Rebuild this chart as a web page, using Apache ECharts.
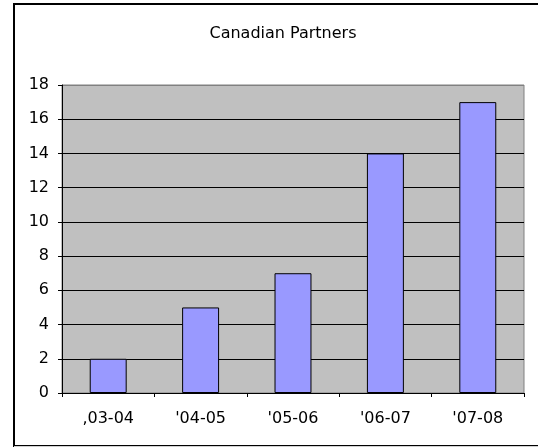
<!DOCTYPE html>
<html>
<head>
<meta charset="utf-8">
<script src="https://cdn.jsdelivr.net/npm/echarts@6/dist/echarts.min.js"></script>
<style>html,body{margin:0;padding:0;background:#fff;}#c{width:538px;height:448px;}</style>
</head>
<body>
<div id="c"></div>
<script>
var categories = [",03-04", "'04-05", "'05-06", "'06-07", "'07-08"];
var values = [2, 5, 7, 14, 17];
var yMin = 0, yMax = 18, yStep = 2;
var FONT = '"DejaVu Sans", sans-serif';

var splitColors = [];
for (var v = yMin; v <= yMax; v += yStep) splitColors.push(v === yMax ? '#808080' : '#000000');

var chart = echarts.init(document.getElementById('c'), null, {renderer: 'canvas'});
chart.setOption({
  animation: false,
  backgroundColor: '#ffffff',
  title: {
    text: 'Canadian Partners',
    left: 278, top: 21, textAlign: 'center',
    textStyle: {fontFamily: FONT, fontSize: 16, fontWeight: 'normal', color: '#000'}
  },
  graphic: [
    {type: 'rect', z: 100, shape: {x: 14, y: 4, width: 540, height: 442},
     style: {fill: 'none', stroke: '#000', lineWidth: 2}},
    {type: 'line', z: 100, shape: {x1: 14, y1: 446.5, x2: 538, y2: 446.5},
     style: {stroke: '#d0d0d0', lineWidth: 1}}
  ],
  grid: {left: 62, top: 85, right: 14, bottom: 55, show: true,
         backgroundColor: '#C0C0C0', borderColor: '#808080', borderWidth: 1},
  xAxis: {
    type: 'category', data: categories,
    axisLine: {lineStyle: {color: '#000', width: 1}},
    axisTick: {show: true, alignWithLabel: false, length: 4, inside: false, lineStyle: {color: '#000'}},
    axisLabel: {fontFamily: FONT, fontSize: 16, color: '#000', margin: 18},
    splitLine: {show: false}
  },
  yAxis: {
    type: 'value', min: yMin, max: yMax, interval: yStep,
    axisLine: {show: true, lineStyle: {color: '#000', width: 1}},
    axisTick: {show: true, length: 4, lineStyle: {color: '#000'}},
    axisLabel: {fontFamily: FONT, fontSize: 16, color: '#000', margin: 13},
    splitLine: {show: true, lineStyle: {color: splitColors, width: 1}}
  },
  series: [{
    type: 'bar', data: values, barWidth: '40%',
    itemStyle: {color: '#9999FF', borderColor: '#000', borderWidth: 1}
  }]
});
</script>
</body>
</html>
